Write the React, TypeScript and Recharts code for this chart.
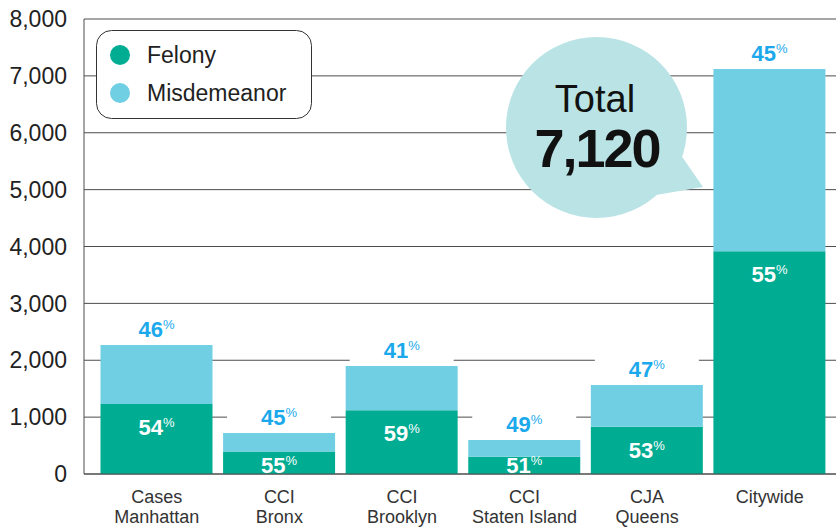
import React from "react";
import { BarChart, Bar, XAxis, YAxis, CartesianGrid, LabelList } from "recharts";

const catLine1 = ["Cases", "CCI", "CCI", "CCI", "CJA", "Citywide"];
const catLine2 = ["Manhattan", "Bronx", "Brooklyn", "Staten Island", "Queens", ""];
const felony = [1230, 396, 1120, 305, 829, 3916];
const misdemeanor = [1040, 324, 778, 293, 735, 3204];
const felonyPct = [54, 55, 59, 51, 53, 55];
const misdPct = [46, 45, 41, 49, 47, 45];
const yTicks = [0, 1000, 2000, 3000, 4000, 5000, 6000, 7000, 8000];
const totalLabel = "7,120";

const C = {
  felony: "#00ac92",
  misd: "#71cfe3",
  blue: "#1ba9ec",
  grid: "#4d4d4d",
  text: "#222222",
  bubble: "#b9e3e5",
};
const FONT = "'Liberation Sans', Arial, Helvetica, sans-serif";

const data = catLine1.map((c, i) => ({
  name: i,
  felony: felony[i],
  misd: misdemeanor[i],
  fp: felonyPct[i],
  mp: misdPct[i],
}));

const fmt = (v: number) => v.toLocaleString("en-US");

function XTick({ x, y, payload }: any) {
  const i = payload.value;
  return (
    <text x={x} textAnchor="middle" fontFamily={FONT} fontSize={18} fill="#333">
      <tspan x={x} y={y + 29}>{catLine1[i]}</tspan>
      <tspan x={x} y={y + 49}>{catLine2[i]}</tspan>
    </text>
  );
}

function PctText({ cx, baseline, value, color }: any) {
  return (
    <text x={cx} y={baseline} textAnchor="middle" fontFamily={FONT} fontWeight="bold" fontSize={22} fill={color}>
      <tspan>{value}</tspan>
      <tspan fontSize={13} fontWeight="normal" dy={-8}>%</tspan>
    </text>
  );
}

function FelonyLabel(props: any) {
  const { x, y, width, value } = props;
  const cx = Number(x) + Number(width) / 2;
  const baseline = Math.min(Number(y) + 31, 473);
  return <PctText cx={cx} baseline={baseline} value={value} color="#ffffff" />;
}

function MisdLabel(props: any) {
  const { x, y, width, value } = props;
  const cx = Number(x) + Number(width) / 2;
  const top = Number(y);
  return (
    <g>
      <rect x={Number(x) + 4} y={top - 32} width={Number(width) - 8} height={31} fill="#fff" />
      <PctText cx={cx} baseline={top - 8} value={value} color={C.blue} />
    </g>
  );
}

export default function App() {
  return (
    <div style={{ position: "absolute", left: 0, top: 0, width: 836, height: 527, background: "#fff" }}>
      <BarChart
        width={836}
        height={527}
        data={data}
        margin={{ top: 19, right: 0, left: 0, bottom: 0 }}
      >
        <CartesianGrid vertical={false} stroke={C.grid} strokeWidth={1} />
        <XAxis
          dataKey="name"
          height={53}
          tick={<XTick />}
          tickLine={false}
          tickSize={0}
          tickMargin={0}
          axisLine={{ stroke: C.grid }}
          padding={{ left: 11.5, right: 5 }}
          interval={0}
        />
        <YAxis
          width={84}
          domain={[0, 8000]}
          ticks={yTicks}
          tickFormatter={fmt}
          tickLine={false}
          tickSize={0}
          tickMargin={17}
          axisLine={{ stroke: C.grid }}
          tick={{ fontFamily: FONT, fontSize: 23, fill: C.text }}
        />
        <Bar dataKey="felony" stackId="a" fill={C.felony} barSize={112} isAnimationActive={false}>
          <LabelList dataKey="fp" content={<FelonyLabel />} />
        </Bar>
        <Bar dataKey="misd" stackId="a" fill={C.misd} barSize={112} isAnimationActive={false}>
          <LabelList dataKey="mp" content={<MisdLabel />} />
        </Bar>
      </BarChart>
      <svg
        width={836}
        height={527}
        style={{ position: "absolute", left: 0, top: 0, pointerEvents: "none" }}
      >
        {/* legend */}
        <rect x={96.5} y={30.5} width={215} height={88} rx={15} fill="#fff" stroke="#333" strokeWidth={1} />
        <circle cx={120} cy={55} r={10} fill={C.felony} />
        <circle cx={120} cy={93} r={10} fill={C.misd} />
        <text x={147} y={63} fontFamily={FONT} fontSize={23} fill={C.text}>Felony</text>
        <text x={147} y={101} fontFamily={FONT} fontSize={23} fill={C.text}>Misdemeanor</text>
        {/* total bubble */}
        <circle cx={596.5} cy={127.5} r={90.5} fill={C.bubble} />
        <path d="M 676 148 L 703 187 L 650 196 Z" fill={C.bubble} />
        <text x={595} y={112} textAnchor="middle" fontFamily={FONT} fontSize={38} fill="#111">Total</text>
        <text x={597} y={167} textAnchor="middle" fontFamily={FONT} fontSize={54} fontWeight="bold" letterSpacing={-2} fill="#111">{totalLabel}</text>
      </svg>
    </div>
  );
}
